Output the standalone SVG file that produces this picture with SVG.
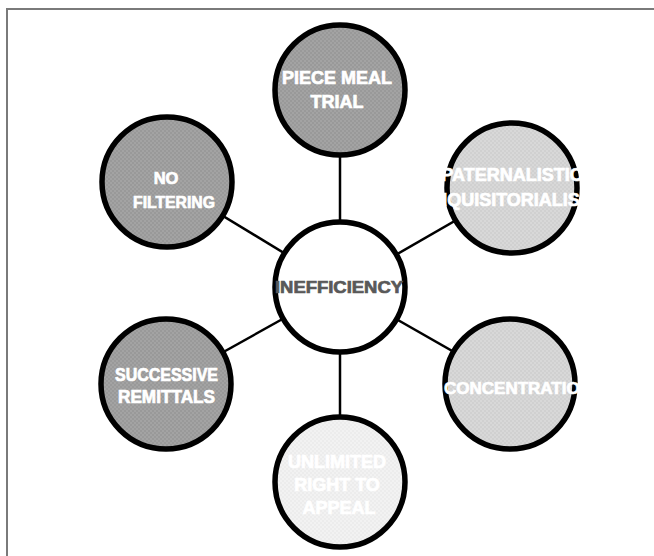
<svg xmlns="http://www.w3.org/2000/svg" width="654" height="556" viewBox="0 0 654 556">
<defs>
<pattern id="pDark" width="4" height="4" patternUnits="userSpaceOnUse"><rect width="4" height="4" fill="#999999"/><rect width="2" height="2" fill="#a3a3a3"/><rect x="2" y="2" width="2" height="2" fill="#a3a3a3"/></pattern>
<pattern id="pLight" width="4" height="4" patternUnits="userSpaceOnUse"><rect width="4" height="4" fill="#d0d0d0"/><rect width="2" height="2" fill="#d8d8d8"/><rect x="2" y="2" width="2" height="2" fill="#d8d8d8"/></pattern>
<pattern id="pPale" width="4" height="4" patternUnits="userSpaceOnUse"><rect width="4" height="4" fill="#ececec"/><rect width="2" height="2" fill="#f2f2f2"/><rect x="2" y="2" width="2" height="2" fill="#f2f2f2"/></pattern>
</defs>
<style>
.node{stroke:#000;stroke-width:5.5}
.dark{fill:url(#pDark)}
.light{fill:url(#pLight)}
.pale{fill:url(#pPale)}
.ctr{fill:#fff}
.lbl{font-family:"Liberation Sans",Arial,sans-serif;font-weight:bold;fill:#fff;stroke:#fff;stroke-width:0.7;text-anchor:middle}
.clbl{font-family:"Liberation Sans",Arial,sans-serif;font-weight:bold;fill:#595959;stroke:#595959;stroke-width:0.7;text-anchor:middle}
.conn line{stroke:#000;stroke-width:2.5}
.frame{stroke:#7a7a7a;stroke-width:2;fill:none}
</style>
<rect width="654" height="556" fill="#fff"/>
<path class="frame" d="M7,556 V9 H654"/>
<g id="connectors" class="conn">
<line x1="340" y1="287" x2="340" y2="90"/>
<line x1="340" y1="287" x2="340" y2="482"/>
<line x1="340" y1="287" x2="167" y2="182"/>
<line x1="340" y1="287" x2="166" y2="384"/>
<line x1="340" y1="287" x2="512" y2="188"/>
<line x1="340" y1="287" x2="510" y2="384"/>
</g>
<g id="node-piece-meal">
<circle class="node dark" cx="340" cy="90" r="65"/>
<text class="lbl" font-size="18" x="337" y="84">PIECE MEAL</text>
<text class="lbl" font-size="18" x="337" y="108">TRIAL</text>
</g>
<g id="node-no-filtering">
<circle class="node dark" cx="167" cy="182" r="65"/>
<text class="lbl" font-size="16.5" x="166" y="184">NO</text>
<text class="lbl" font-size="16.5" x="174" y="208" textLength="82" lengthAdjust="spacingAndGlyphs">FILTERING</text>
</g>
<g id="node-successive-remittals">
<circle class="node dark" cx="166" cy="384" r="65"/>
<text class="lbl" font-size="17.5" x="166.5" y="381" textLength="103" lengthAdjust="spacingAndGlyphs">SUCCESSIVE</text>
<text class="lbl" font-size="17.5" x="166.5" y="403" textLength="97" lengthAdjust="spacingAndGlyphs">REMITTALS</text>
</g>
<g id="node-paternalistic">
<circle class="node light" cx="512" cy="188" r="65"/>
<text class="lbl" font-size="18" x="512" y="181">PATERNALISTIC</text>
<text class="lbl" font-size="18" x="512" y="206">INQUISITORIALISM</text>
</g>
<g id="node-concentration">
<circle class="node light" cx="510" cy="384" r="65"/>
<text class="lbl" font-size="17" x="444" y="394" style="text-anchor:start">CONCENTRATION</text>
</g>
<g id="node-unlimited">
<circle class="node pale" cx="340" cy="482" r="65"/>
<text class="lbl" font-size="18" x="337" y="468">UNLIMITED</text>
<text class="lbl" font-size="18" x="337" y="491">RIGHT TO</text>
<text class="lbl" font-size="18" x="339" y="514">APPEAL</text>
</g>
<g id="node-inefficiency">
<circle class="node ctr" cx="340" cy="287" r="65"/>
<text class="clbl" font-size="17" x="339" y="293" textLength="128" lengthAdjust="spacingAndGlyphs">INEFFICIENCY</text>
</g>
</svg>
